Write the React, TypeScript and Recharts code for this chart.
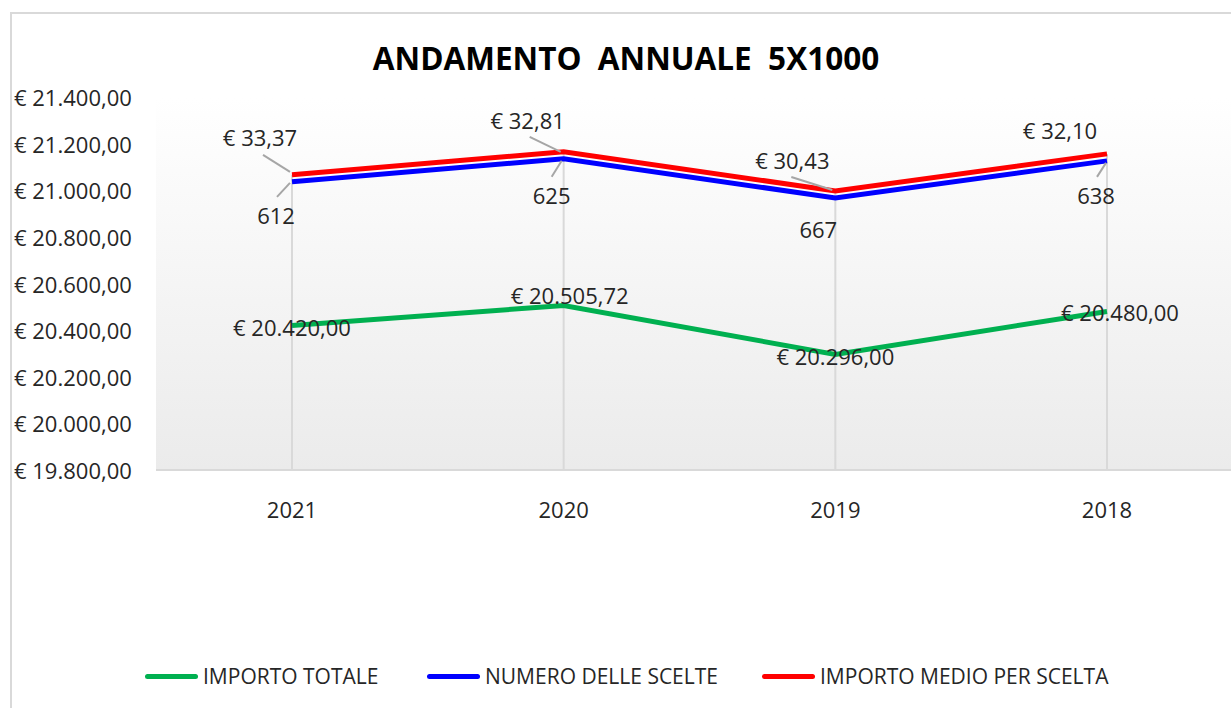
import { LineChart, Line, XAxis, YAxis, CartesianGrid, ReferenceLine } from 'recharts';

const anni = ['2021', '2020', '2019', '2018'];
const importoTotale = [20420, 20505.72, 20296, 20480];
// positions of the two upper lines as drawn on the main axis
const numeroScelteLivello = [21036, 21135, 20967, 21126];
const importoMedioLivello = [21066, 21165, 20997, 21156];
// values printed on the labels of the two upper lines
const numeroScelte = [612, 625, 667, 638];
const importoMedio = [33.37, 32.81, 30.43, 32.1];
const yTicks = [19800, 20000, 20200, 20400, 20600, 20800, 21000, 21200, 21400];

const data = anni.map((anno, i) => ({
    anno,
    totale: importoTotale[i],
    scelte: numeroScelteLivello[i],
    medio: importoMedioLivello[i],
}));

const FONT = '"Open Sans", sans-serif';
const TEXT = '#262626';

const euro = (v: number) => {
    const [int, dec] = v.toFixed(2).split('.');
    return `€ ${int.replace(/\B(?=(\d{3})+(?!\d))/g, '.')},${dec}`;
};

// label placement relative to the point (dx, dy) and optional leader line
const totaleOff = [
    { dx: 0, dy: 2 },
    { dx: 6, dy: -10 },
    { dx: 0, dy: 2 },
    { dx: 13, dy: 1 },
];
const medioOff = [
    { dx: -32, dy: -38, lead: [-29, -20, -2, -3] },
    { dx: -36, dy: -32, lead: [-34, -15, -3, 0] },
    { dx: -43, dy: -31, lead: [-44, -14, -3, -1] },
    { dx: -47, dy: -24, lead: null },
];
const scelteOff = [
    { dx: -16, dy: 33, lead: [-15, 15, -2, 1] },
    { dx: -12, dy: 36, lead: [-12, 18, -2, 2] },
    { dx: -17, dy: 31, lead: null },
    { dx: -11, dy: 34, lead: [-10, 16, -1, 2] },
];

const makeLabel = (offs: any[], texts: string[]) => (props: any) => {
    const { x, y, index } = props;
    const o = offs[index];
    return (
        <g>
            {o.lead && (
                <line
                    x1={x + o.lead[0]}
                    y1={y + o.lead[1]}
                    x2={x + o.lead[2]}
                    y2={y + o.lead[3]}
                    stroke="#a6a6a6"
                    strokeWidth={2}
                />
            )}
            <text
                x={x + o.dx}
                y={y + o.dy}
                textAnchor="middle"
                dominantBaseline="central"
                fontFamily={FONT}
                fontSize={22}
                fill={TEXT}
            >
                {texts[index]}
            </text>
        </g>
    );
};

const YTick = ({ y, payload }: any) => (
    <text x={14} y={y} dominantBaseline="central" fontFamily={FONT} fontSize={22} fill={TEXT}>
        {euro(payload.value)}
    </text>
);

const XTick = ({ x, y, payload }: any) => (
    <text x={x} y={y + 31} textAnchor="middle" dominantBaseline="central" fontFamily={FONT} fontSize={22} fill={TEXT}>
        {payload.value}
    </text>
);

const legend = [
    { name: 'IMPORTO TOTALE', color: '#00b050', left: 145 },
    { name: 'NUMERO DELLE SCELTE', color: '#0000ff', left: 427 },
    { name: 'IMPORTO MEDIO PER SCELTA', color: '#ff0000', left: 762 },
];

export default function App() {
    return (
        <div style={{ position: 'fixed', left: 0, top: 0, width: 1231, height: 708, overflow: 'hidden', background: '#fff', fontFamily: FONT }}>
            <div style={{ position: 'absolute', left: 10, top: 12, width: 1400, height: 900, borderTop: '2px solid #d9d9d9', borderLeft: '2px solid #d9d9d9' }} />
            <div style={{ position: 'absolute', left: 0, width: 1252, top: 36, textAlign: 'center', whiteSpace: 'pre', fontWeight: 700, fontSize: 31.5, color: '#000' }}>
                {'ANDAMENTO  ANNUALE  5X1000'}
            </div>
            <div style={{ position: 'absolute', left: 0, top: 0 }}>
                <LineChart width={1260} height={560} data={data} margin={{ top: 97, right: 17, left: 0, bottom: 50 }}>
                    <defs>
                        <linearGradient id="bgGrad" x1="0" y1="0" x2="0" y2="1">
                            <stop offset="0%" stopColor="#ffffff" />
                            <stop offset="100%" stopColor="#ebebeb" />
                        </linearGradient>
                    </defs>
                    <CartesianGrid horizontal={false} vertical={false} fill="url(#bgGrad)" />
                    <XAxis
                        dataKey="anno"
                        padding={{ left: 136, right: 136 }}
                        axisLine={{ stroke: '#d9d9d9', strokeWidth: 2 }}
                        tickLine={false}
                        tick={<XTick />}
                        height={40}
                    />
                    <YAxis domain={[19800, 21400]} ticks={yTicks} axisLine={false} tickLine={false} tick={<YTick />} width={156} />
                    {anni.map((a, i) => (
                        <ReferenceLine
                            key={a}
                            segment={[{ x: a, y: importoMedioLivello[i] }, { x: a, y: 19800 }]}
                            stroke="#d9d9d9"
                            strokeWidth={2}
                        />
                    ))}
                    <Line
                        dataKey="totale"
                        stroke="#00b050"
                        strokeWidth={5}
                        dot={false}
                        isAnimationActive={false}
                        label={makeLabel(totaleOff, importoTotale.map(euro))}
                    />
                    <Line
                        dataKey="scelte"
                        stroke="#0000ff"
                        strokeWidth={5}
                        dot={false}
                        isAnimationActive={false}
                        label={makeLabel(scelteOff, numeroScelte.map(String))}
                    />
                    <Line
                        dataKey="medio"
                        stroke="#ff0000"
                        strokeWidth={5}
                        dot={false}
                        isAnimationActive={false}
                        label={makeLabel(medioOff, importoMedio.map(euro))}
                    />
                </LineChart>
            </div>
            {legend.map((l) => (
                <div key={l.name} style={{ position: 'absolute', left: l.left, top: 663, display: 'flex', alignItems: 'center', height: 26 }}>
                    <div style={{ width: 53, height: 5, borderRadius: 3, background: l.color, marginRight: 5 }} />
                    <span style={{ fontSize: 21, color: TEXT, whiteSpace: 'nowrap' }}>{l.name}</span>
                </div>
            ))}
        </div>
    );
}
